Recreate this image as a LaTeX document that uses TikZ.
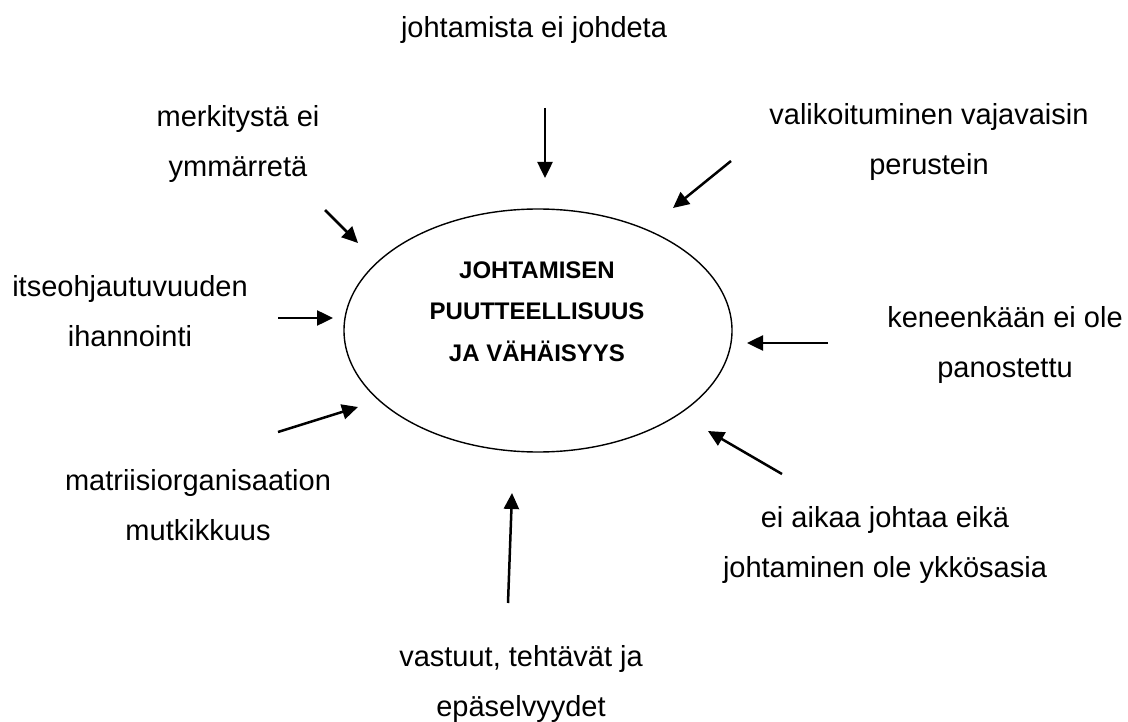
\documentclass[tikz,border=0pt]{standalone}
\usepackage{fontspec}
\setmainfont{Liberation Sans}
\usetikzlibrary{shapes.geometric,arrows.meta}
\begin{document}
\begin{tikzpicture}[x=1pt,y=-1pt,
  cause/.style={align=center,anchor=base,inner sep=0pt,
    font=\fontsize{29}{50}\selectfont},
  coretext/.style={align=center,anchor=base,inner sep=0pt,
    font=\fontsize{24}{41.5}\selectfont\bfseries},
  hubshape/.style={ellipse,draw,line width=1.4pt,inner sep=0pt,
    minimum width=388pt,minimum height=243pt},
  push/.style={line width=2.5pt,-{Triangle[length=16pt,width=15pt]}}]
\useasboundingbox (0,0) rectangle (1128,722);

% central ellipse and its title (base anchor = last line's baseline)
\node[hubshape] (hub) at (538,330.5) {};
\node[coretext] (hubtext) at (537,361)
  {JOHTAMISEN\\PUUTTEELLISUUS\\JA VÄHÄISYYS};

% surrounding causes, placed by the baseline of their last line
\node[cause] (c1) at (534,38) {johtamista ei johdeta};
\node[cause] (c2) at (238,177) {merkitystä ei\\ymmärretä};
\node[cause] (c3) at (929,175) {valikoituminen vajavaisin\\perustein};
\node[cause] (c4) at (130,346) {itseohjautuvuuden\\ihannointi};
\node[cause] (c5) at (1005,377) {keneenkään ei ole\\panostettu};
\node[cause] (c6) at (198,540) {matriisiorganisaation\\mutkikkuus};
\node[cause] (c7) at (885,577) {ei aikaa johtaa eikä\\johtaminen ole ykkösasia};
\node[cause] (c8) at (521,716) {vastuut, tehtävät ja\\epäselvyydet};

% arrow end points
\coordinate (s1) at (545,108);  \coordinate (t1) at (545,178);
\coordinate (s2) at (731,161);  \coordinate (t2) at (673,208);
\coordinate (s3) at (325,210);  \coordinate (t3) at (358,243);
\coordinate (s4) at (278,318);  \coordinate (t4) at (333,318);
\coordinate (s5) at (278,432);  \coordinate (t5) at (358,407);
\coordinate (s6) at (828,343);  \coordinate (t6) at (747,343);
\coordinate (s7) at (782,474);  \coordinate (t7) at (708,431);
\coordinate (s8) at (508,603);  \coordinate (t8) at (512,493);

\foreach \i in {1,...,8} \draw[push] (s\i) -- (t\i);
\end{tikzpicture}
\end{document}
